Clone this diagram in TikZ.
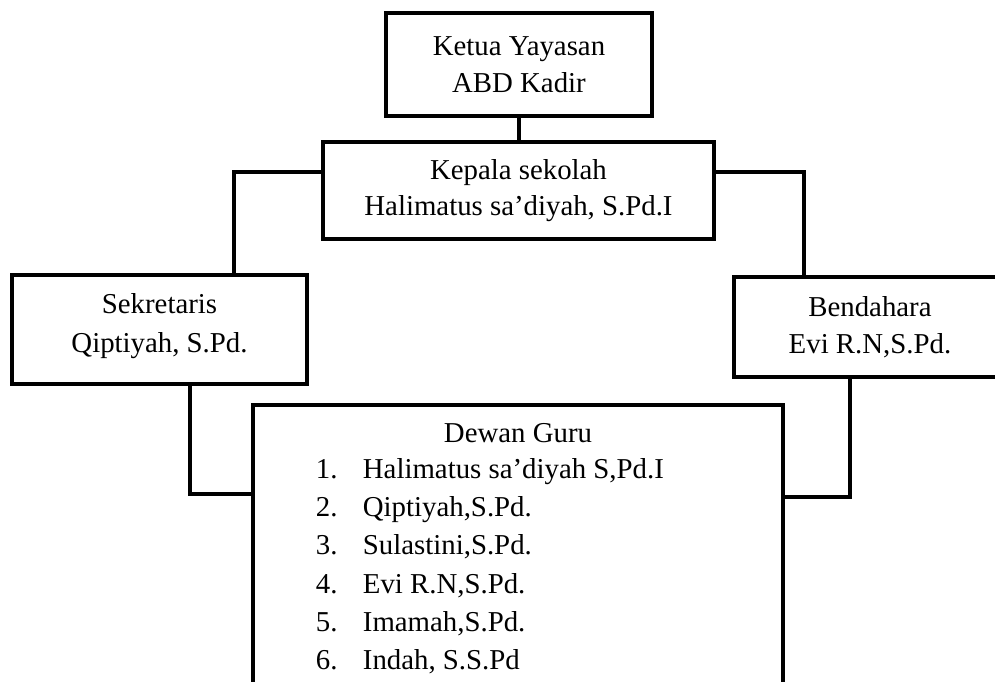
\documentclass[tikz,border=0pt]{standalone}
\usepackage{fontspec}
\setmainfont{Liberation Serif}
\usepackage{tikz}
\usetikzlibrary{positioning}

\begin{document}
\begin{tikzpicture}[x=0.02cm, y=-0.02cm, line width=2.2pt,
  every node/.style={font=\fontsize{16.4}{20.8}\selectfont, align=center},
  kotak/.style={draw, inner sep=0pt}]
\clip (0,0) rectangle (995,682);
\node[kotak,minimum width=5.32cm,minimum height=2.06cm] (ketua) at (519,64.5) {Ketua Yayasan\\ABD Kadir};
\node[kotak,minimum width=7.82cm,minimum height=1.94cm] (kepala) at (518.5,190.5) {Kepala sekolah\\Halimatus sa’diyah, S.Pd.I};
\node[kotak,minimum width=5.9cm,minimum height=2.18cm,text depth=7pt] (sekretaris) at (159.5,329.5) {Sekretaris\\[1.5pt]Qiptiyah, S.Pd.};
\node[kotak,minimum width=5.44cm,minimum height=2.0cm] (bendahara) at (870,327) {Bendahara\\Evi R.N,S.Pd.};
\node[kotak,minimum width=10.6cm,minimum height=5.94cm,anchor=north] (dewan) at (518,403) {};
\node[anchor=base] (judul) at (518,443) {Dewan Guru};
\foreach \nama [count=\i] in {{Halimatus sa’diyah S,Pd.I}, {Qiptiyah,S.Pd.}, {Sulastini,S.Pd.}, {Evi R.N,S.Pd.}, {Imamah,S.Pd.}, {Indah, S.S.Pd}}{
  \node[anchor=base west,inner sep=0pt] (no\i) at (314,441+38*\i) {\i.};
  \node[anchor=base west,inner sep=0pt] (guru\i) at (361,441+38*\i) {\nama};
}
\draw (ketua.south) -- (ketua.south |- kepala.north);
\draw ([yshift=0.37cm]kepala.west) -| ([xshift=1.49cm]sekretaris.north);
\draw ([yshift=0.37cm]kepala.east) -| ([xshift=-1.32cm]bendahara.north);
\draw ([xshift=0.61cm]sekretaris.south) |- ([yshift=-1.82cm]dewan.north west);
\draw ([xshift=-0.4cm]bendahara.south) |- ([yshift=-1.88cm]dewan.north east);
\end{tikzpicture}
\end{document}
